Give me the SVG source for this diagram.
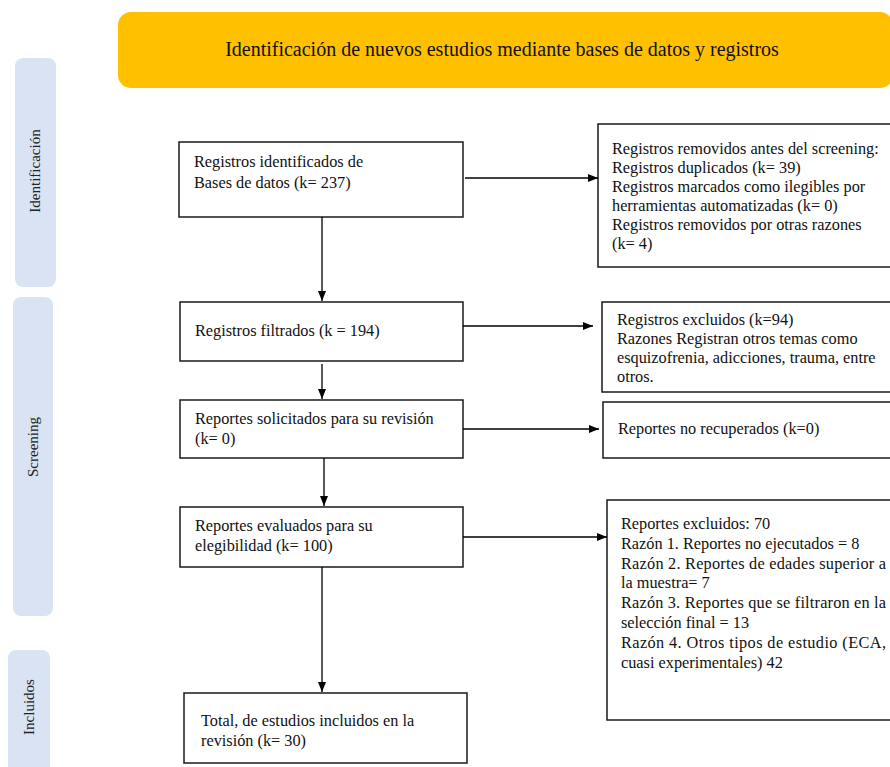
<svg xmlns="http://www.w3.org/2000/svg" width="890" height="767" viewBox="0 0 890 767">
<defs>
<marker id="ah" markerWidth="10" markerHeight="8" refX="10" refY="4" orient="auto" markerUnits="userSpaceOnUse">
<path d="M0,0 L10,4 L0,8 Z" fill="#000"/>
</marker>
<style>
.box{fill:#fff;stroke:#1a1a1a;stroke-width:1.5}
.side{fill:#DAE3F3}
.t{font-family:"Liberation Serif","Times New Roman",serif;font-size:16.3px;fill:#111}
.s{font-family:"Liberation Serif","Times New Roman",serif;font-size:15px;fill:#222}
.c{stroke:#000;stroke-width:1.3;fill:none;marker-end:url(#ah)}
</style>
</defs>
<rect width="890" height="767" fill="#fff"/>

<g id="header">
<rect x="118" y="12" width="775" height="76" rx="13" fill="#FFC000"/>
<text x="502" y="56" text-anchor="middle" font-family="Liberation Serif, serif" font-size="20px" fill="#111">Identificación de nuevos estudios mediante bases de datos y registros</text>
</g>

<g id="phase-identificacion">
<rect class="side" x="15" y="58" width="41" height="229" rx="8"/>
<text class="s" transform="translate(40,171) rotate(-90)" text-anchor="middle">Identificación</text>
</g>
<g id="phase-screening">
<rect class="side" x="13" y="297" width="40" height="319" rx="8"/>
<text class="s" transform="translate(38,447) rotate(-90)" text-anchor="middle" font-size="16px">Screening</text>
</g>
<g id="phase-incluidos">
<rect class="side" x="8" y="650" width="42" height="130" rx="8"/>
<text class="s" transform="translate(34,707) rotate(-90)" text-anchor="middle">Incluidos</text>
</g>

<g id="n-identificados">
<rect class="box" x="179" y="142" width="284" height="75"/>
<text class="t" x="194" y="167">Registros identificados de</text>
<text class="t" x="194" y="188">Bases de datos (k= 237)</text>
</g>
<g id="n-removidos">
<rect class="box" x="598" y="124" width="300" height="143"/>
<text class="t" x="612" y="154">Registros removidos antes del screening:</text>
<text class="t" x="612" y="173">Registros duplicados (k= 39)</text>
<text class="t" x="612" y="192">Registros marcados como ilegibles por</text>
<text class="t" x="612" y="211">herramientas automatizadas (k= 0)</text>
<text class="t" x="612" y="230">Registros removidos por otras razones</text>
<text class="t" x="612" y="249">(k= 4)</text>
</g>
<g id="n-filtrados">
<rect class="box" x="180" y="302" width="283" height="59"/>
<text class="t" x="195" y="336">Registros filtrados (k = 194)</text>
</g>
<g id="n-excluidos">
<rect class="box" x="602" y="302" width="296" height="90"/>
<text class="t" x="617" y="325">Registros excluidos (k=94)</text>
<text class="t" x="617" y="344">Razones Registran otros temas como</text>
<text class="t" x="617" y="363">esquizofrenia, adicciones, trauma, entre</text>
<text class="t" x="617" y="382">otros.</text>
</g>
<g id="n-solicitados">
<rect class="box" x="180" y="400" width="283" height="58"/>
<text class="t" x="195" y="424">Reportes solicitados para su revisión</text>
<text class="t" x="195" y="444">(k= 0)</text>
</g>
<g id="n-norecuperados">
<rect class="box" x="603" y="402" width="295" height="56"/>
<text class="t" x="618" y="434">Reportes no recuperados (k=0)</text>
</g>
<g id="n-evaluados">
<rect class="box" x="180" y="507" width="283" height="60"/>
<text class="t" x="195" y="531">Reportes evaluados para su</text>
<text class="t" x="195" y="551">elegibilidad (k= 100)</text>
</g>
<g id="n-reportes-excluidos">
<rect class="box" x="607" y="500" width="291" height="220"/>
<text class="t" x="621" y="529">Reportes excluidos: 70</text>
<text class="t" x="621" y="548.8">Razón 1. Reportes no ejecutados = 8</text>
<text class="t" x="621" y="568.6" textLength="265" lengthAdjust="spacing">Razón 2. Reportes de edades superior a</text>
<text class="t" x="621" y="588.4">la muestra= 7</text>
<text class="t" x="621" y="608.2" textLength="265" lengthAdjust="spacing">Razón 3. Reportes que se filtraron en la</text>
<text class="t" x="621" y="628">selección final = 13</text>
<text class="t" x="621" y="647.8" textLength="265" lengthAdjust="spacing">Razón 4. Otros tipos de estudio (ECA,</text>
<text class="t" x="621" y="667.6">cuasi experimentales) 42</text>
</g>
<g id="n-total">
<rect class="box" x="184" y="693" width="283" height="70"/>
<text class="t" x="201" y="726">Total, de estudios incluidos en la</text>
<text class="t" x="201" y="746">revisión (k= 30)</text>
</g>

<g id="connectors">
<line class="c" x1="322" y1="217" x2="322" y2="301"/>
<line class="c" x1="322" y1="364" x2="322" y2="399"/>
<line class="c" x1="324" y1="458" x2="324" y2="506"/>
<line class="c" x1="322" y1="567" x2="322" y2="692"/>
<line class="c" x1="465" y1="178" x2="598" y2="178"/>
<line class="c" x1="463" y1="326" x2="593" y2="326"/>
<line class="c" x1="463" y1="429" x2="599" y2="429"/>
<line class="c" x1="463" y1="537" x2="607" y2="537"/>
</g>
</svg>
